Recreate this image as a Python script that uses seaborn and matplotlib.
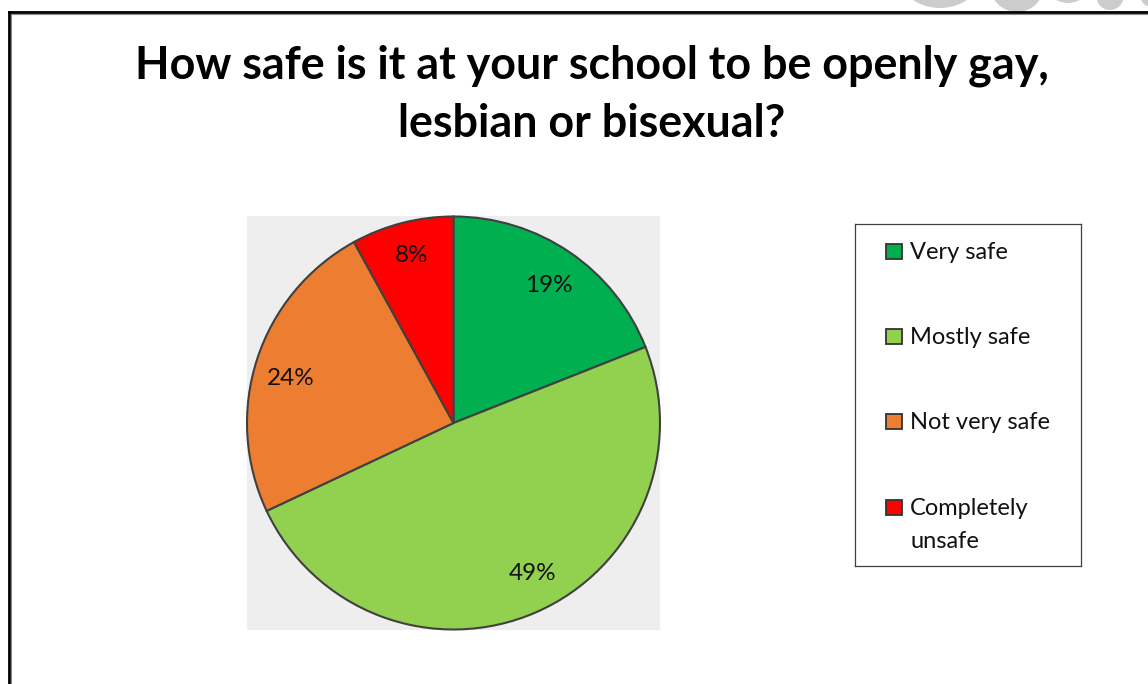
import matplotlib
matplotlib.use("Agg")
import matplotlib.pyplot as plt
from matplotlib.patches import Rectangle, Circle
from matplotlib.lines import Line2D
from matplotlib.transforms import IdentityTransform
import seaborn as sns

# Survey answers and their shares (percent)
categories = ["Very safe", "Mostly safe", "Not very safe", "Completely unsafe"]
legend_labels = ["Very safe", "Mostly safe", "Not very safe", "Completely\nunsafe"]
shares = [19, 49, 24, 8]
colors = ["#00B050", "#92D050", "#ED7D31", "#FF0000"]
title_lines = ["How safe is it at your school to be openly gay,", "lesbian or bisexual?"]

sns.set_theme(style="white")
plt.rcParams["font.family"] = ["Lato", "DejaVu Sans"]

W, H = 1148, 684
fig = plt.figure(figsize=(W / 100, H / 100), dpi=100)
fig.patch.set_facecolor("white")


def fx(px):
    return px / W


def fy(py):
    return 1 - py / H


# decorative grey dots peeking above the frame (pixel coordinates)
for cx, cy, r in [(940, -41.5, 49.5), (1017, -15, 27), (1068, -20.5, 23.5),
                  (1110, -3.5, 13.5), (1152, -5, 12)]:
    fig.add_artist(Circle((cx, H - cy), r, transform=IdentityTransform(),
                          facecolor="#CCCCCC", edgecolor="none"))

# slide frame (left and top edges)
fig.add_artist(Line2D([fx(8.7), fx(8.7)], [0, fy(11.8)], color="black", lw=2.0,
                      solid_capstyle="projecting"))
fig.add_artist(Line2D([fx(8.7), 1], [fy(11.8), fy(11.8)], color="black", lw=2.0,
                      solid_capstyle="projecting"))
fig.add_artist(Line2D([fx(10.6), fx(10.6)], [0, fy(13.5)], color="#8A8A8A", lw=0.8))
fig.add_artist(Line2D([fx(10.6), 1], [fy(13.5), fy(13.5)], color="#8A8A8A", lw=0.8))

# title
fig.text(fx(592), fy(66), title_lines[0], ha="center", va="center",
         fontsize=32.3, fontweight="bold", color="black")
fig.text(fx(592), fy(124), title_lines[1], ha="center", va="center",
         fontsize=32.3, fontweight="bold", color="black")

# pie chart
ax = fig.add_axes([fx(247), fy(630), fx(660) - fx(247), fy(216) - fy(630)])
wedges, texts, autotexts = ax.pie(
    shares, colors=colors, startangle=90, counterclock=False,
    autopct="%.0f%%", pctdistance=0.82,
    wedgeprops=dict(edgecolor="#404040", linewidth=1.5),
    textprops=dict(fontsize=17.5, color="#111111"),
)
ax.set_frame_on(True)
ax.set_facecolor("#EEEEEE")
for s in ax.spines.values():
    s.set_visible(False)
ax.set_xlim(-1.0, 1.0)
ax.set_ylim(-1.0, 1.0)
ax.set_xticks([])
ax.set_yticks([])
for w in wedges:
    w.set_clip_on(False)

# nudge the percentage labels to their best-fit spots
label_nudges = [(0.0, -0.01), (0.058, 0.024), (-0.01, -0.039), (0.0, 0.015)]
for t, (dx, dy) in zip(autotexts, label_nudges):
    x, y = t.get_position()
    t.set_position((x + dx, y + dy))

# legend box
lax = fig.add_axes([fx(855), fy(566), fx(1081) - fx(855), fy(224) - fy(566)])
lax.set_xlim(855, 1081)
lax.set_ylim(566, 224)
lax.set_xticks([])
lax.set_yticks([])
for s in lax.spines.values():
    s.set_color("#404040")
    s.set_linewidth(0.9)
entry_y = [251, 336, 421, 507]
line_step = 33
for label, c, y in zip(legend_labels, colors, entry_y):
    lax.add_patch(Rectangle((886, y - 7), 16, 15, facecolor=c, edgecolor="#333333", lw=1.3))
    for i, line in enumerate(label.split("\n")):
        lax.text(910, y + 8 + i * line_step, line, ha="left", va="baseline",
                 fontsize=17, color="#111111")

fig.savefig("out.png", dpi=100)
